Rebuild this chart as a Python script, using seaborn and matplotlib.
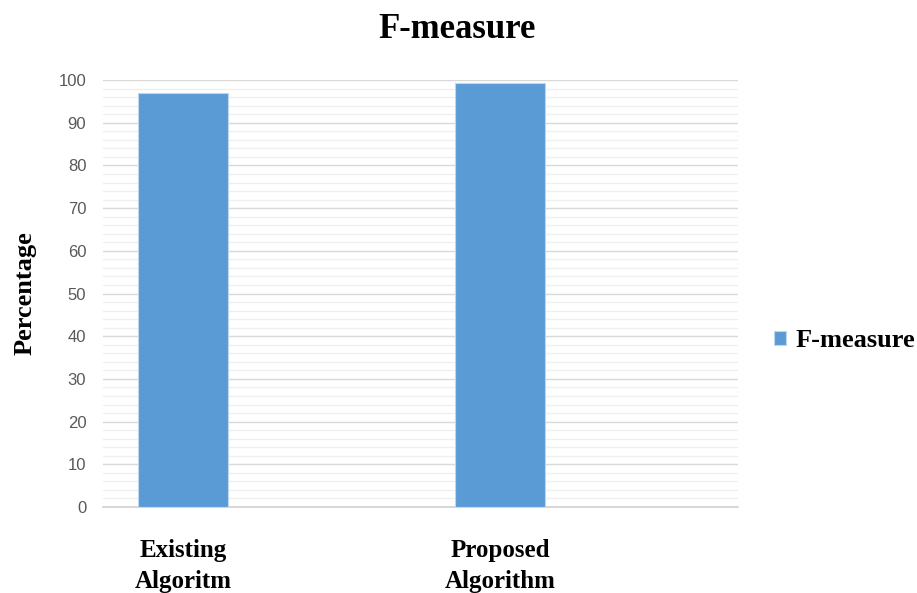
import matplotlib
matplotlib.use("Agg")
import matplotlib.pyplot as plt
import seaborn as sns
import pandas as pd
import numpy as np

# Data
categories = ["Existing\nAlgoritm", "Proposed\nAlgorithm"]
fmeasure = [97.0, 99.2]
series_name = "F-measure"
yticks = [0, 10, 20, 30, 40, 50, 60, 70, 80, 90, 100]

df = pd.DataFrame({"Algorithm": categories, "Percentage": fmeasure,
                   "Series": [series_name] * len(categories)})

sns.set_theme(style="white")
plt.rcParams["font.family"] = ["Liberation Serif", "DejaVu Serif"]
plt.rcParams["text.color"] = "black"

fig = plt.figure(figsize=(9.17, 5.93), dpi=100)
ax = fig.add_axes([0.1123, 0.145, 0.6925, 0.72])

bar_color = "#5B9BD5"
sns.barplot(data=df, x="Algorithm", y="Percentage", hue="Series",
            palette=[bar_color], saturation=1, dodge=False, width=0.284, ax=ax,
            edgecolor="#BDD7EE", linewidth=0.8, zorder=3)

ax.set_xlim(-0.252, 1.751)
ax.set_ylim(0, 100)
ax.set_yticks(yticks)
ax.set_yticks(np.arange(0, 101, 2), minor=True)
ax.grid(axis="y", which="major", color="#D9D9D9", linewidth=1.0, zorder=0)
ax.grid(axis="y", which="minor", color="#EFEFEF", linewidth=0.9, zorder=0)
ax.grid(axis="x", visible=False)

for side in ["left", "right", "top"]:
    ax.spines[side].set_visible(False)
ax.spines["bottom"].set_color("#D0D0D0")
ax.spines["bottom"].set_linewidth(1.2)
ax.tick_params(axis="both", which="both", length=0)
ax.tick_params(axis="y", pad=12)
ax.tick_params(axis="x", pad=23)

for lbl in ax.get_yticklabels():
    lbl.set_family(["Liberation Sans", "DejaVu Sans"])
    lbl.set_fontsize(12)
    lbl.set_color("#595959")
for lbl in ax.get_xticklabels():
    lbl.set_fontsize(18)
    lbl.set_fontweight("bold")
    lbl.set_color("black")
    lbl.set_linespacing(1.45)

ax.set_xlabel("")
ax.set_ylabel("Percentage", fontsize=19, fontweight="bold", labelpad=16,
              color="black")
fig.suptitle("F-measure", fontsize=25, fontweight="bold", x=0.498, y=0.978,
             color="black")

sns.move_legend(ax, "center left", bbox_to_anchor=(1.02, 0.39), title=None,
                frameon=False, handlelength=0.45, handleheight=0.45,
                handletextpad=0.35, prop={"weight": "bold", "size": 19})

fig.savefig("out.png", dpi=100)
